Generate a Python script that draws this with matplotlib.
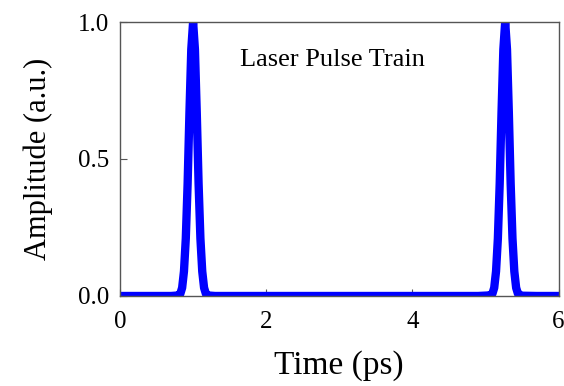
import matplotlib.pyplot as plt

plt.rcParams['font.family'] = ['Liberation Serif', 'DejaVu Serif']

## Pulse train samples (ps, a.u.)
time_ps = [0.0, 0.70, 0.80, 0.825, 0.85, 0.875, 0.90, 0.925, 0.95, 0.975, 1.0,
           1.025, 1.05, 1.075, 1.10, 1.125, 1.15, 1.175, 1.20, 1.30,
           4.90, 5.05, 5.095, 5.12, 5.145, 5.17, 5.195, 5.22, 5.245, 5.27,
           5.295, 5.32, 5.345, 5.37, 5.395, 5.42, 5.445, 5.50, 5.70, 6.0]
amplitude = [0.0, 0.0, 0.002, 0.008, 0.03, 0.09, 0.21, 0.41, 0.67, 0.90, 1.0,
             0.90, 0.67, 0.41, 0.21, 0.09, 0.03, 0.008, 0.002, 0.0,
             0.0, 0.002, 0.008, 0.03, 0.09, 0.21, 0.41, 0.67, 0.90, 1.0,
             0.90, 0.67, 0.41, 0.21, 0.09, 0.03, 0.008, 0.001, 0.0, 0.0]

x_ticks = [0, 2, 4, 6]
y_ticks = [0.0, 0.5, 1.0]

fig = plt.figure(figsize=(5.64, 3.86), dpi=100)
ax = fig.add_axes([0.2128, 0.2332, 0.7775, 0.7098])

ax.plot(time_ps, amplitude, color='#0000ff', lw=6.0, solid_joinstyle='round')

ax.set_xlim(0, 6)
ax.set_ylim(0, 1)
ax.set_xticks(x_ticks)
ax.set_xticklabels([str(t) for t in x_ticks])
ax.set_yticks(y_ticks)
ax.set_yticklabels([f"{t:.1f}" for t in y_ticks])
ax.tick_params(direction='in', length=5, width=0.8, labelsize=18,
               color='#555555')
ax.tick_params(axis='x', pad=11)
ax.tick_params(axis='y', pad=8)
for s in ax.spines.values():
    s.set_color('#555555')
    s.set_linewidth(1.0)

ax.text(2.9, 0.86, 'Laser Pulse Train', fontsize=19, ha='center', va='center')
ax.set_xlabel('Time (ps)', fontsize=24, labelpad=12)
ax.set_ylabel('Amplitude (a.u.)', fontsize=22, labelpad=18)

fig.savefig('out.png', dpi=100)
